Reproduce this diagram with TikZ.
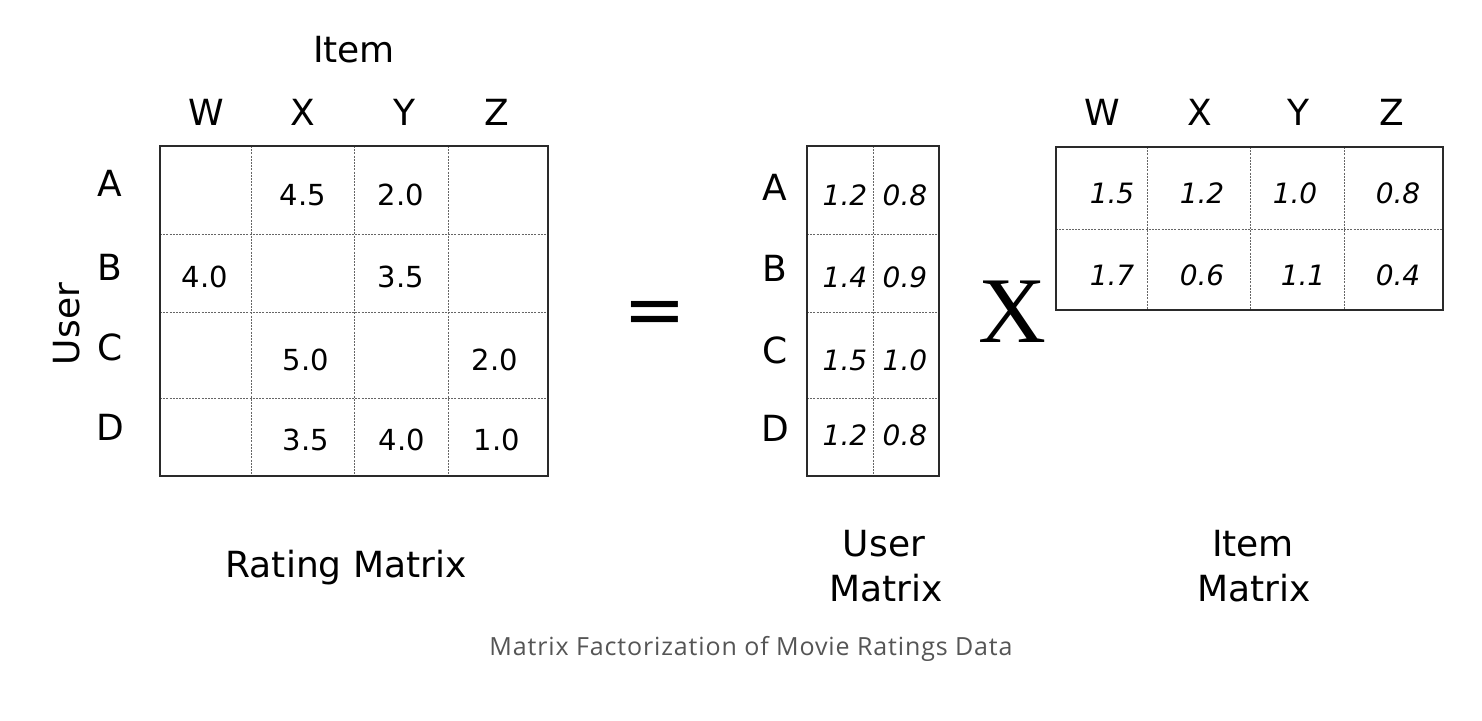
\documentclass[tikz,border=0pt]{standalone}
\usepackage{fontspec}
\setmainfont{DejaVu Sans}
\newfontfamily\capfont[LetterSpace=3.5]{Open Sans}
\newfontfamily\bigserif{Liberation Serif}
\definecolor{border}{HTML}{2A2A2A}
\definecolor{grid}{HTML}{666666}
\definecolor{captxt}{HTML}{555555}
\begin{document}
\begin{tikzpicture}[x=1pt,y=-1pt,
  outer/.style={draw=border,line width=2pt},
  inner/.style={draw=grid,line width=0.9pt,dash pattern=on 2pt off 1.2pt},
  lbl/.style={inner sep=0pt,font=\fontsize{36}{40}\selectfont},
  num/.style={inner sep=0pt,font=\fontsize{29}{32}\selectfont},
  inum/.style={inner sep=0pt,font=\fontsize{28}{32}\selectfont\itshape},
  captionstyle/.style={inner sep=0pt,text=captxt,font=\capfont\fontsize{25}{28}\selectfont}]
\useasboundingbox (0,0) rectangle (1482,720);
\fill[white] (0,0) rectangle (1482,720);

% ---------- Rating matrix ----------
\draw[inner] (251,146) -- (251,476) (354,146) -- (354,476) (448,146) -- (448,476);
\draw[inner] (160,234) -- (548,234) (160,312) -- (548,312) (160,398) -- (548,398);
\draw[outer] (160,146) rectangle (548,476);

\node[lbl] (item) at (354,50) {Item};
\node[lbl] (rw) at (206,112) {W};
\node[lbl] (rx) at (303,112) {X};
\node[lbl] (ry) at (404,112) {Y};
\node[lbl] (rz) at (497,112) {Z};
\node[lbl] (ra) at (110,183) {A};
\node[lbl] (rb) at (110,267) {B};
\node[lbl] (rc) at (110,347) {C};
\node[lbl] (rd) at (110,427) {D};
\node[lbl,rotate=90] (user) at (67,324) {User};

\node[num] (r12) at (303,195) {4.5};
\node[num] (r13) at (401,195) {2.0};
\node[num] (r21) at (205,277) {4.0};
\node[num] (r23) at (401,277) {3.5};
\node[num] (r32) at (306,360) {5.0};
\node[num] (r34) at (495,360) {2.0};
\node[num] (r42) at (306,440) {3.5};
\node[num] (r43) at (402,440) {4.0};
\node[num] (r44) at (497,440) {1.0};

\node[lbl,anchor=base] (rtitle) at (346,577) {Rating Matrix};

% ---------- equals ----------
\node[inner sep=0pt,font=\fontsize{75}{80}\selectfont] (eq) at (655,318) {=};

% ---------- User matrix ----------
\draw[inner] (873,146) -- (873,476);
\draw[inner] (807,234) -- (939,234) (807,312) -- (939,312) (807,398) -- (939,398);
\draw[outer] (807,146) rectangle (939,476);
\node[lbl] (ua) at (775,187) {A};
\node[lbl] (ub) at (775,268) {B};
\node[lbl] (uc) at (775,350) {C};
\node[lbl] (ud) at (775,428) {D};
\node[inum] (u11) at (845,195) {1.2};
\node[inum] (u12) at (905,195) {0.8};
\node[inum] (u21) at (845,277) {1.4};
\node[inum] (u22) at (905,277) {0.9};
\node[inum] (u31) at (845,360) {1.5};
\node[inum] (u32) at (905,360) {1.0};
\node[inum] (u41) at (845,435) {1.2};
\node[inum] (u42) at (905,435) {0.8};
\node[lbl,anchor=base] (ut1) at (884,556) {User};
\node[lbl,anchor=base] (ut2) at (886,601) {Matrix};

% ---------- times ----------
\node[inner sep=0pt,font=\bigserif\fontsize{94}{100}\selectfont] (times) at (1012,312) {X};

% ---------- Item matrix ----------
\draw[inner] (1147,147) -- (1147,310) (1250,147) -- (1250,310) (1344,147) -- (1344,310);
\draw[inner] (1056,229) -- (1443,229);
\draw[outer] (1056,147) rectangle (1443,310);
\node[lbl] (iw) at (1102,112) {W};
\node[lbl] (ix) at (1200,112) {X};
\node[lbl] (iy) at (1298,112) {Y};
\node[lbl] (iz) at (1392,112) {Z};
\node[inum] (i11) at (1112,193) {1.5};
\node[inum] (i12) at (1202,193) {1.2};
\node[inum] (i13) at (1295,193) {1.0};
\node[inum] (i14) at (1398,193) {0.8};
\node[inum] (i21) at (1112,275) {1.7};
\node[inum] (i22) at (1202,275) {0.6};
\node[inum] (i23) at (1303,275) {1.1};
\node[inum] (i24) at (1398,275) {0.4};
\node[lbl,anchor=base] (it1) at (1253,556) {Item};
\node[lbl,anchor=base] (it2) at (1254,601) {Matrix};

% ---------- caption ----------
\node[captionstyle,anchor=base] (caption) at (751,655) {Matrix Factorization of Movie Ratings Data};
\end{tikzpicture}
\end{document}
